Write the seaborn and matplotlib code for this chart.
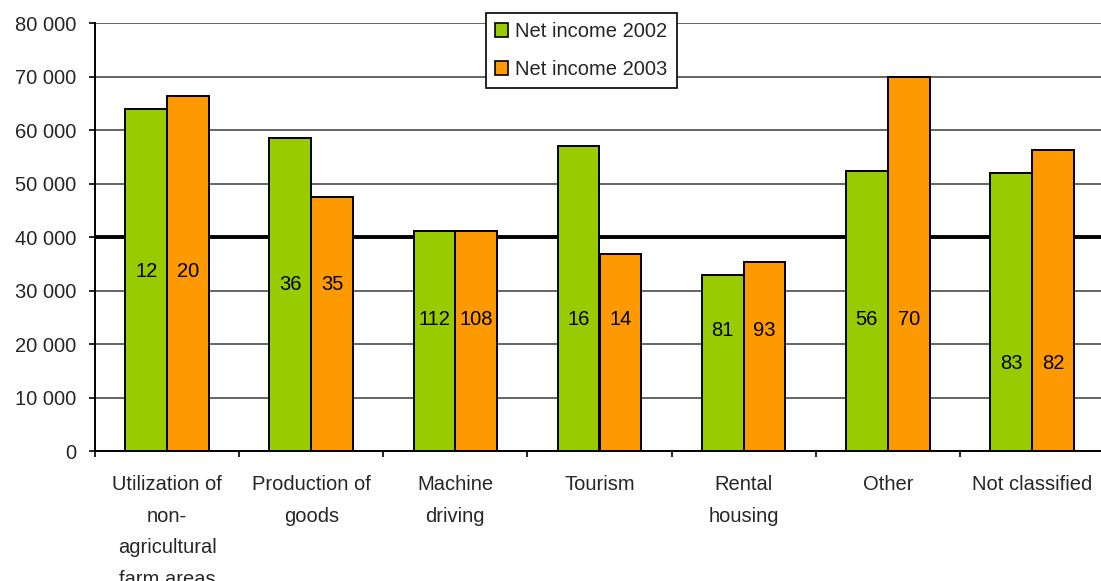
import matplotlib
matplotlib.use("Agg")
import matplotlib.pyplot as plt
import matplotlib.ticker as mticker
import seaborn as sns
import pandas as pd

# Net income by activity, with the number of farms printed inside each bar
categories = [
    "Utilization of\nnon-\nagricultural\nfarm areas",
    "Production of\ngoods",
    "Machine\ndriving",
    "Tourism",
    "Rental\nhousing",
    "Other",
    "Not classified",
]
series_names = ["Net income 2002", "Net income 2003"]
income_2002 = [63900, 58500, 41200, 57100, 32900, 52300, 52000]
income_2003 = [66400, 47600, 41100, 36800, 35400, 69900, 56300]
farms_2002 = [12, 36, 112, 16, 81, 56, 83]
farms_2003 = [20, 35, 108, 14, 93, 70, 82]
# height (in income units) at which the farm counts are written
count_label_y = [33600, 31100, 24700, 24700, 22500, 24700, 16450]
y_ticks = [0, 10000, 20000, 30000, 40000, 50000, 60000, 70000, 80000]

colors = ["#99CC00", "#FF9900"]

df = pd.DataFrame({
    "category": categories * 2,
    "series": [series_names[0]] * len(categories) + [series_names[1]] * len(categories),
    "income": income_2002 + income_2003,
})

sns.set_style("white")
plt.rcParams["font.family"] = ["Liberation Sans", "DejaVu Sans"]
plt.rcParams["font.size"] = 14

fig = plt.figure(figsize=(11.01, 5.81), dpi=100)
ax = fig.add_axes([95 / 1101, (581 - 451.3) / 581, 1009 / 1101, 428 / 581])

sns.barplot(
    data=df, x="category", y="income", hue="series",
    palette=colors, width=0.58, edgecolor="black", linewidth=1.4,
    saturation=1, ax=ax, legend=True, errorbar=None, zorder=3,
)

ax.set_xlim(-0.5, len(categories) - 0.5)
ax.set_ylim(0, 80000)
ax.set_yticks(y_ticks)
ax.yaxis.set_major_formatter(
    mticker.FuncFormatter(lambda v, p: f"{int(v):,}".replace(",", " "))
)

# horizontal gridlines, with a heavier reference line at 40 000
ax.set_axisbelow(True)
ax.grid(axis="y", color="#3a3a3a", linewidth=1.1)
ax.grid(axis="x", visible=False)
ax.axhline(40000, color="black", linewidth=2.8, zorder=2)

# category tick marks sit between the groups, names are centred under them
ax.set_xticks([i - 0.5 for i in range(len(categories) + 1)])
ax.set_xticklabels([])
ax.set_xticks(range(len(categories)), minor=True)
ax.set_xticklabels(categories, minor=True, linespacing=1.84)
ax.tick_params(axis="x", which="major", direction="out", length=4.5, width=1.2,
               color="black", bottom=True)
ax.tick_params(axis="x", which="minor", length=0, pad=17, labelsize=14.5)
ax.tick_params(axis="y", direction="out", length=4.5, width=1.2, color="black",
               left=True, pad=9, labelsize=14.5)
ax.set_xlabel("")
ax.set_ylabel("")

for side in ["top", "right"]:
    ax.spines[side].set_visible(False)
for side in ["left", "bottom"]:
    ax.spines[side].set_color("black")
    ax.spines[side].set_linewidth(1.4)

# farm counts inside the bars
for container, counts in zip(ax.containers, [farms_2002, farms_2003]):
    for bar, n, yv in zip(container, counts, count_label_y):
        ax.text(bar.get_x() + bar.get_width() / 2, yv, str(n),
                ha="center", va="center", fontsize=14.5, color="black", zorder=5)

leg = ax.legend(
    loc="upper left", bbox_to_anchor=(486 / 1101, 1 - 13 / 581),
    bbox_transform=fig.transFigure, borderaxespad=0, fancybox=False,
    frameon=True, edgecolor="black", framealpha=1, fontsize=14.5,
    handlelength=0.65, handleheight=0.65, handletextpad=0.35,
    labelspacing=0.95, borderpad=0.45,
)
leg.get_frame().set_linewidth(1.2)
for h in leg.legend_handles:
    h.set_edgecolor("black")
    h.set_linewidth(1.2)
leg.set_zorder(6)

fig.savefig("out.png", dpi=100)
